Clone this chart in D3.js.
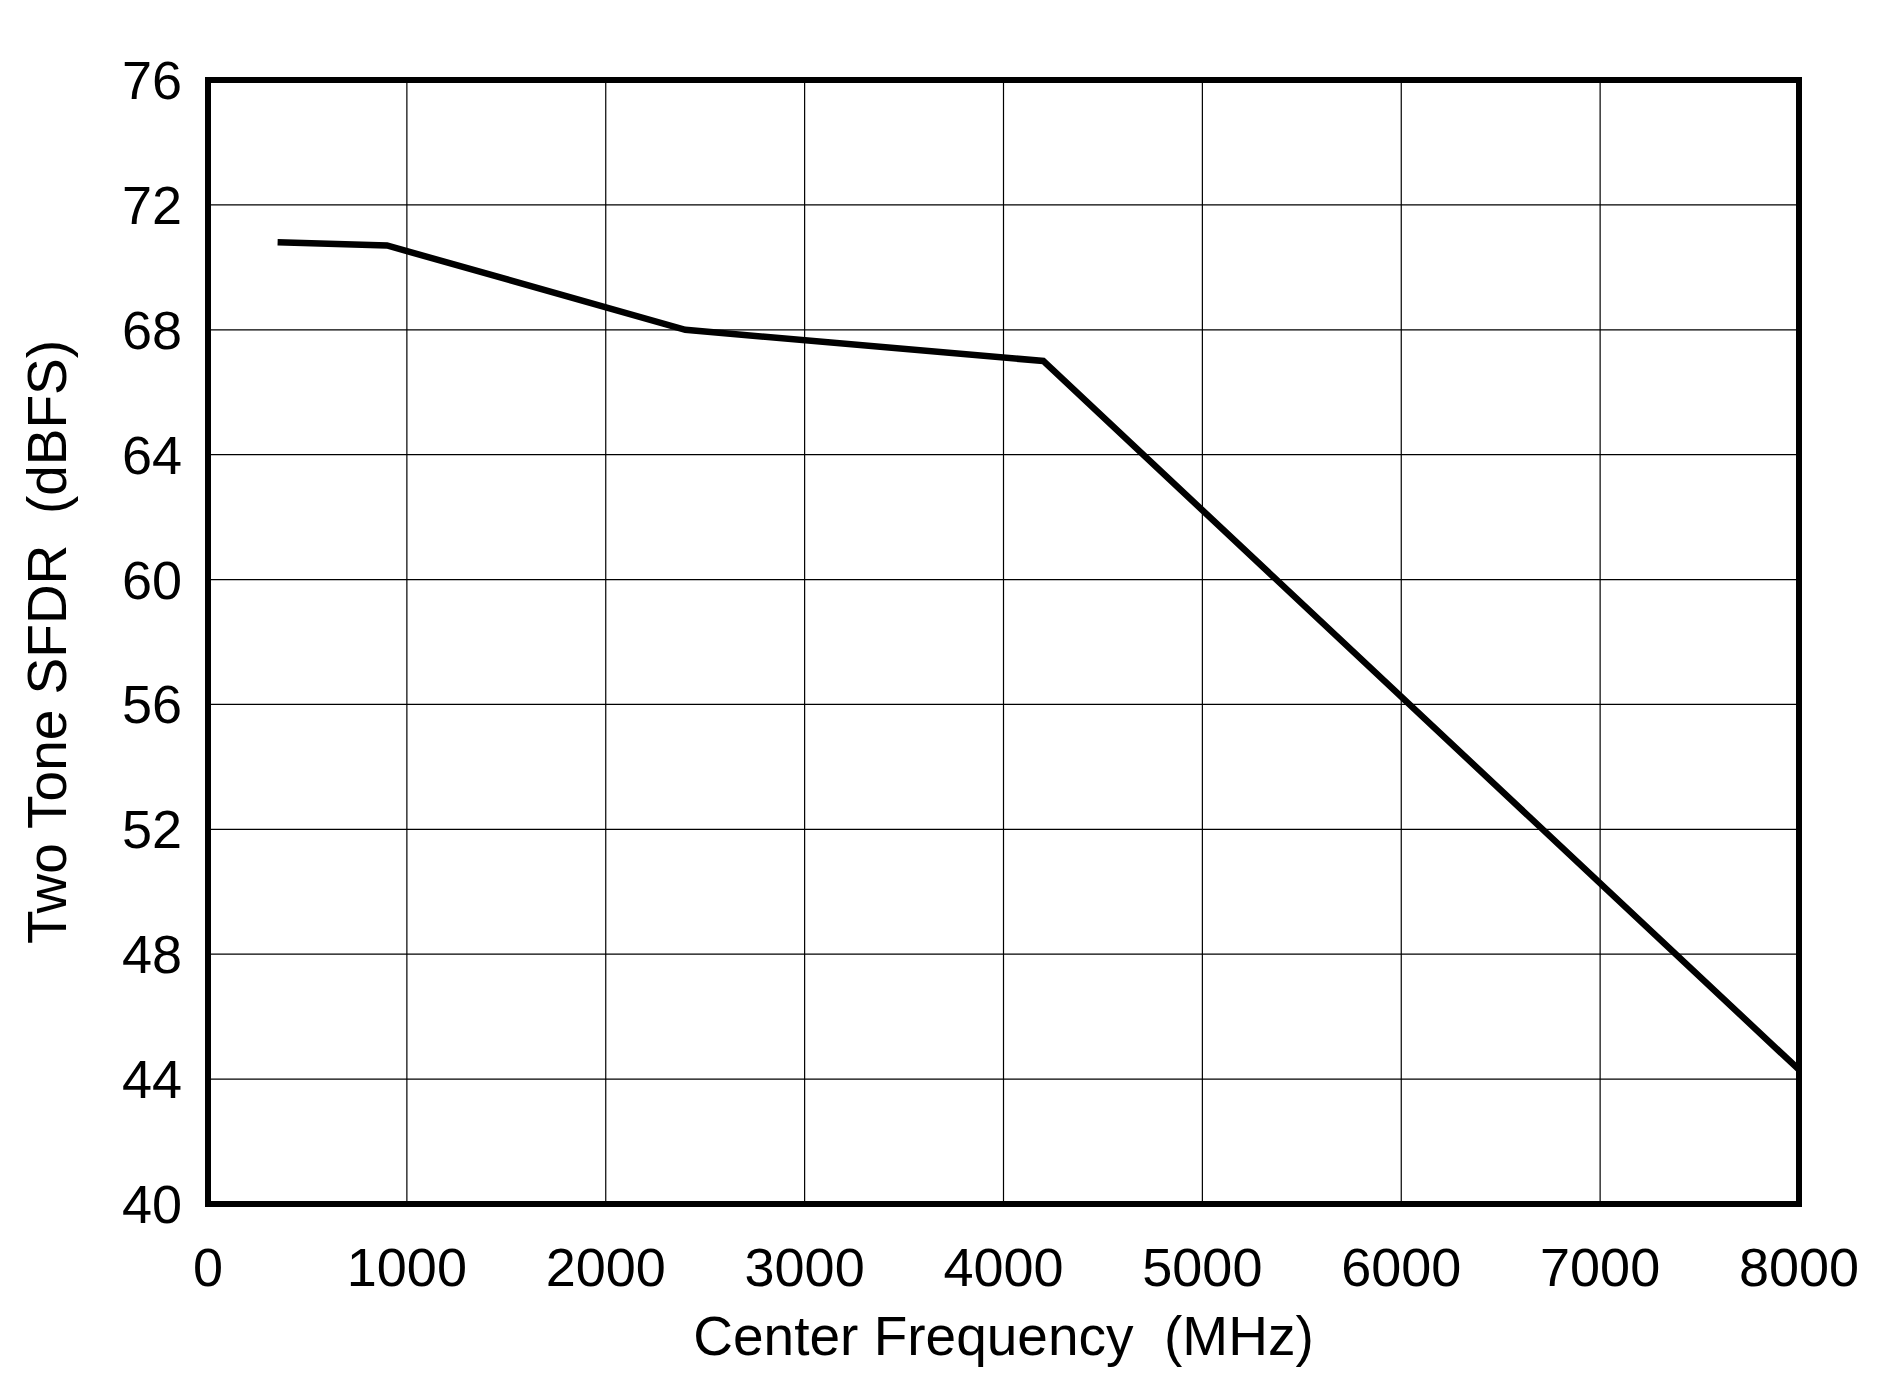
<!DOCTYPE html><html><head><meta charset="utf-8"><script src="https://cdn.jsdelivr.net/npm/d3@7"></script>
<style>body{margin:0;background:#fff}</style></head><body><svg id="c" width="1899" height="1382"></svg><script>
const freq=[350,900,2400,4200,8000];
const sfdr=[70.8,70.7,68.0,67.0,44.3];
const xTicks=[0,1000,2000,3000,4000,5000,6000,7000,8000];
const yTicks=[40,44,48,52,56,60,64,68,72,76];
const svg=d3.select("#c");
const L=208,R=1799,T=80,B=1204;
const x=d3.scaleLinear().domain([0,8000]).range([L,R]);
const y=d3.scaleLinear().domain([40,76]).range([B,T]);
const f="Liberation Sans, Arial, sans-serif";
svg.append("g").selectAll("line").data(xTicks).join("line").attr("x1",d=>x(d)).attr("x2",d=>x(d)).attr("y1",T).attr("y2",B).attr("stroke","#000").attr("stroke-width",1.2);
svg.append("g").selectAll("line").data(yTicks).join("line").attr("y1",d=>y(d)).attr("y2",d=>y(d)).attr("x1",L).attr("x2",R).attr("stroke","#000").attr("stroke-width",1.2);
svg.append("path").datum(freq.map((d,i)=>[d,sfdr[i]])).attr("d",d3.line().x(d=>x(d[0])).y(d=>y(d[1]))).attr("fill","none").attr("stroke","#000").attr("stroke-width",6.5);
svg.append("rect").attr("x",L).attr("y",T).attr("width",R-L).attr("height",B-T).attr("fill","none").attr("stroke","#000").attr("stroke-width",6);
svg.append("g").selectAll("text").data(xTicks).join("text").attr("x",d=>x(d)).attr("y",B+82).attr("text-anchor","middle").attr("font-family",f).attr("font-size",54).text(d=>d);
svg.append("g").selectAll("text").data(yTicks).join("text").attr("x",L-26).attr("y",d=>y(d)+19).attr("text-anchor","end").attr("font-family",f).attr("font-size",54).text(d=>d);
svg.append("text").attr("x",(L+R)/2).attr("y",1355).attr("text-anchor","middle").attr("font-family",f).attr("font-size",55).attr("xml:space","preserve").text("Center Frequency  (MHz)");
svg.append("text").attr("transform",`translate(66,${(T+B)/2}) rotate(-90)`).attr("text-anchor","middle").attr("font-family",f).attr("font-size",55).attr("xml:space","preserve").text("Two Tone SFDR  (dBFS)");
</script></body></html>
